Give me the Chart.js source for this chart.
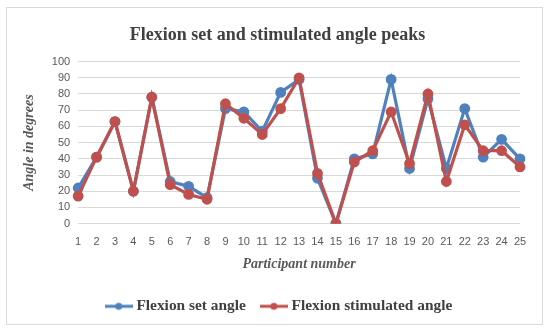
<!DOCTYPE html>
<html>
<head>
<meta charset="utf-8">
<script src="https://cdn.jsdelivr.net/npm/chart.js@4/dist/chart.umd.min.js"></script>
<style>
  body { margin: 0; background: #fff; }
  #box { position: absolute; left: 6px; top: 7px; width: 537px; height: 318px; border: 1px solid #d9d9d9; box-sizing: border-box; }
</style>
</head>
<body>
<div id="box"><canvas id="myChart"></canvas></div>
<script>
const participants = ['1','2','3','4','5','6','7','8','9','10','11','12','13','14','15','16','17','18','19','20','21','22','23','24','25'];
const setAngle = [22, 41, 63, 20, 78, 26, 23, 16, 71, 69, 57, 81, 89, 28, 0, 40, 43, 89, 34, 77, 34, 71, 41, 52, 40];
const stimulatedAngle = [17, 41, 63, 20, 78, 24, 18, 15, 74, 65, 55, 71, 90, 31, 0, 38, 45, 69, 37, 80, 26, 61, 45, 45, 35];

const blue = '#4f81bd';
const red = '#c0504d';

// small marker image for the legend: line with a dot in the middle
function legendMark(color) {
    let c = document.createElement('canvas');
    c.width = 28; c.height = 10;
    let ctx = c.getContext('2d');
    ctx.strokeStyle = color;
    ctx.lineWidth = 3;
    ctx.beginPath();
    ctx.moveTo(0, 5); ctx.lineTo(28, 5);
    ctx.stroke();
    ctx.fillStyle = color;
    ctx.beginPath();
    ctx.arc(14, 5, 3.5, 0, Math.PI * 2);
    ctx.fill();
    return c;
}

const data = {
    labels: participants,
    datasets: [{
        label: 'Flexion set angle',
        data: setAngle,
        borderColor: blue,
        backgroundColor: blue,
        borderWidth: 3.2,
        pointRadius: 3.8,
        order: 1
    }, {
        label: 'Flexion stimulated angle',
        data: stimulatedAngle,
        borderColor: red,
        backgroundColor: red,
        borderWidth: 3.2,
        pointRadius: 3.8,
        order: 0
    }]
};

const marks = [legendMark(blue), legendMark(red)];

// title and legend sit a bit right of the centre in the original
const nudge = {
    id: 'nudge',
    afterLayout(chart) {
        chart.titleBlock.left += 7;
        chart.titleBlock.right += 7;
        chart.legend.left += 10;
        chart.legend.right += 10;
    }
};

const config = {
    type: 'line',
    data: data,
    plugins: [nudge],
    options: {
        responsive: true,
        maintainAspectRatio: false,
        animation: false,
        layout: { padding: { left: 14, right: 22, top: 6, bottom: 0 } },
        plugins: {
            title: {
                display: true,
                text: 'Flexion set and stimulated angle peaks',
                color: '#404040',
                font: { family: 'Liberation Serif', size: 18, weight: 'bold' },
                padding: { top: 11, bottom: 15 }
            },
            legend: {
                position: 'bottom',
                labels: {
                    usePointStyle: true,
                    pointStyleWidth: 20,
                    color: '#404040',
                    font: { family: 'Liberation Serif', size: 15.4, weight: 'bold' },
                    padding: 18,
                    generateLabels: (chart) => chart.data.datasets.map((ds, i) => ({
                        text: ds.label,
                        pointStyle: marks[i],
                        fontColor: '#404040',
                        datasetIndex: i,
                        lineWidth: 0
                    }))
                }
            },
            tooltip: { enabled: false }
        },
        scales: {
            x: {
                grid: { display: false },
                border: { display: false },
                ticks: { color: '#595959', font: { family: 'Liberation Sans', size: 11 }, maxRotation: 0, autoSkip: false, padding: 4 },
                title: {
                    display: true,
                    text: 'Participant number',
                    color: '#595959',
                    font: { family: 'Liberation Serif', size: 14, weight: 'bold', style: 'italic' },
                    padding: { top: 3, bottom: 8 }
                }
            },
            y: {
                min: 0,
                max: 100,
                ticks: { stepSize: 10, autoSkip: false, color: '#595959', font: { family: 'Liberation Sans', size: 11 }, padding: 8 },
                grid: { color: '#d9d9d9', drawTicks: false },
                border: { display: false },
                title: {
                    display: true,
                    text: 'Angle in degrees',
                    color: '#595959',
                    font: { family: 'Liberation Serif', size: 14, weight: 'bold', style: 'italic' },
                    padding: { top: 0, bottom: 6 }
                }
            }
        }
    }
};

const myChart = new Chart(document.getElementById('myChart'), config);
</script>
</body>
</html>
